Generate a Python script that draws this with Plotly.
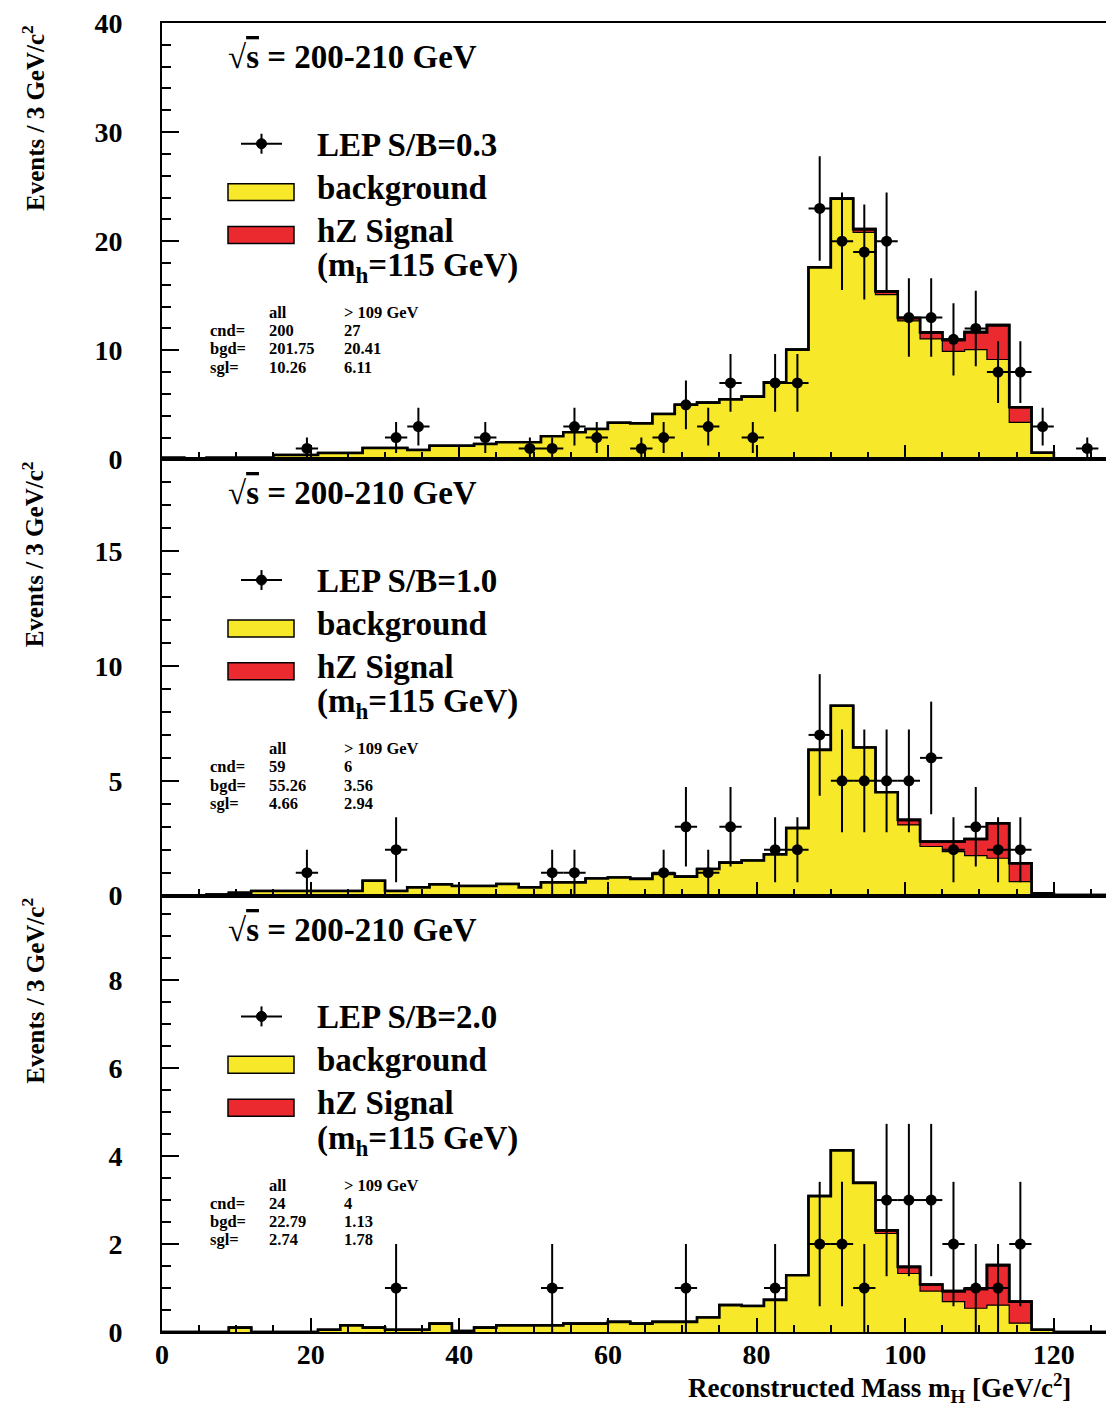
import numpy as np
import plotly.graph_objects as go

# ---------------- data ----------------
bin_edges = list(range(0, 130, 3))  # 0..129, 43 bins of 3 GeV

# panel 1 : LEP S/B=0.3
bkg_1 = [0.15, 0, 0.15, 0.15, 0.15, 0.4, 0.4, 0.58, 0.58, 1.04, 1.04, 0.86, 1.25, 1.25,
         1.41, 1.56, 1.56, 2.11, 2.48, 2.78, 3.35, 3.3, 4.16, 5.0, 5.2, 5.5, 5.75, 7.06,
         10.06, 17.6, 23.9, 20.8, 15.1, 12.7, 11.04, 9.9, 10.06, 9.15, 3.39, 0.6, 0.1, 0.1, 0.1]
sig_1 = [0]*31 + [0.3, 0.3, 0.26, 0.6, 1.05, 1.6, 3.15, 1.38, 0, 0, 0, 0]
obs_x_1 = [19.5, 31.5, 34.5, 43.5, 49.5, 52.5, 55.5, 58.5, 64.5, 67.5, 70.5, 73.5, 76.5, 79.5,
           82.5, 85.5, 88.5, 91.5, 94.5, 97.5, 100.5, 103.5, 106.5, 109.5, 112.5, 115.5, 118.5, 124.5]
obs_n_1 = [1, 2, 3, 2, 1, 1, 3, 2, 1, 2, 5, 3, 7, 2, 7, 7, 23, 20, 19, 20, 13, 13, 11, 12, 8, 8, 3, 1]

# panel 2 : LEP S/B=1.0
bkg_2 = [0, 0, 0.05, 0.13, 0.2, 0.2, 0.2, 0.2, 0.2, 0.65, 0.2, 0.36, 0.49, 0.42, 0.42, 0.51,
         0.36, 0.58, 0.58, 0.75, 0.79, 0.73, 0.95, 0.83, 1.16, 1.44, 1.53, 1.80, 2.94, 6.35,
         8.27, 6.45, 4.5, 3.08, 2.14, 1.92, 1.74, 1.63, 0.61, 0.1, 0.03, 0.03, 0.03]
sig_2 = [0]*33 + [0.22, 0.22, 0.44, 0.73, 1.52, 0.8, 0, 0, 0, 0]
obs_x_2 = [19.5, 31.5, 52.5, 55.5, 67.5, 70.5, 73.5, 76.5, 82.5, 85.5, 88.5, 91.5, 94.5, 97.5,
           100.5, 103.5, 106.5, 109.5, 112.5, 115.5]
obs_n_2 = [1, 2, 1, 1, 1, 3, 1, 3, 2, 2, 7, 5, 5, 5, 5, 6, 2, 3, 2, 2]

# panel 3 : LEP S/B=2.0
bkg_3 = [0, 0, 0, 0.1, 0, 0, 0, 0.05, 0.15, 0.1, 0.05, 0.05, 0.19, 0.02, 0.1, 0.15, 0.15,
         0.15, 0.19, 0.19, 0.23, 0.19, 0.23, 0.23, 0.33, 0.61, 0.59, 0.73, 1.29, 3.09, 4.13,
         3.39, 2.24, 1.33, 0.93, 0.69, 0.54, 0.61, 0.2, 0.05, 0, 0, 0]
sig_3 = [0]*32 + [0.07, 0.15, 0.15, 0.24, 0.44, 0.91, 0.49, 0, 0, 0, 0]
obs_x_3 = [31.5, 52.5, 70.5, 82.5, 88.5, 91.5, 94.5, 97.5, 100.5, 103.5, 106.5, 109.5, 112.5, 115.5]
obs_n_3 = [1, 1, 1, 1, 2, 2, 1, 3, 3, 3, 2, 1, 1, 2]

sb_labels = ["LEP S/B=0.3", "LEP S/B=1.0", "LEP S/B=2.0"]
stats_all = [["200", "201.75", "10.26"], ["59", "55.26", "4.66"], ["24", "22.79", "2.74"]]
stats_cut = [["27", "20.41", "6.11"], ["6", "3.56", "2.94"], ["4", "1.13", "1.78"]]
stat_names = ["cnd=", "bgd=", "sgl="]
y_ranges = [[0, 40], [0, 19.0], [0, 9.92]]
y_dticks = [10, 5, 2]
y_minor = [2, 1, 0.5]

panels = [(bkg_1, sig_1, obs_x_1, obs_n_1), (bkg_2, sig_2, obs_x_2, obs_n_2),
          (bkg_3, sig_3, obs_x_3, obs_n_3)]

# ---------------- layout geometry ----------------
# page body adds an 8px margin, so the figure is built 8px smaller/shifted
PAGE_OFF = 8
W, H = 1114 - PAGE_OFF, 1406 - PAGE_OFF
# plot area in reference (window) pixels
X0, X1, Y0, Y1 = 162, 1114, 20, 1332
ML, MR, MT, MB = X0 - PAGE_OFF, 0, Y0 - PAGE_OFF, H - (Y1 - PAGE_OFF)
PW = X1 - X0
PH = Y1 - Y0
PANEL_H = PH / 3.0

YELLOW = "#f8e82a"
RED = "#ea2a2f"
FONT = "Liberation Serif"


def px(xp):
    return (xp - X0) / PW


def py(yp):
    return (Y1 - yp) / PH


def ann(text, xp, yp, size, bold=True, xanchor="left", yanchor="middle", angle=0):
    return dict(text=text, x=px(xp), y=py(yp), xref="paper", yref="paper",
                showarrow=False, xanchor=xanchor, yanchor=yanchor, textangle=angle,
                font=dict(family=FONT, size=size, color="black",
                          weight="bold" if bold else "normal"))


fig = go.Figure()
annotations = []
shapes = []

for i, (bkg, sig, ox, on) in enumerate(panels):
    xa = "x" if i == 0 else f"x{i+1}"
    ya = "y" if i == 0 else f"y{i+1}"
    tot = [b + s for b, s in zip(bkg, sig)]
    xs = bin_edges
    # total (bkg + signal), red
    fig.add_trace(go.Scatter(x=xs, y=tot + [tot[-1]], mode="lines", line_shape="hv",
                             fill="tozeroy", fillcolor=RED,
                             line=dict(color="black", width=2.6),
                             xaxis=xa, yaxis=ya, showlegend=False, hoverinfo="skip"))
    # background, yellow
    fig.add_trace(go.Scatter(x=xs, y=bkg + [bkg[-1]], mode="lines", line_shape="hv",
                             fill="tozeroy", fillcolor=YELLOW,
                             line=dict(color="black", width=1.2),
                             xaxis=xa, yaxis=ya, showlegend=False, hoverinfo="skip"))
    # redraw total outline on top
    fig.add_trace(go.Scatter(x=xs, y=tot + [tot[-1]], mode="lines", line_shape="hv",
                             line=dict(color="black", width=2.6),
                             xaxis=xa, yaxis=ya, showlegend=False, hoverinfo="skip"))
    # data points
    fig.add_trace(go.Scatter(x=ox, y=on, mode="markers",
                             marker=dict(color="black", size=11),
                             error_y=dict(type="data", array=list(np.sqrt(on)), color="black",
                                          thickness=2, width=0),
                             error_x=dict(type="constant", value=1.5, color="black",
                                          thickness=2, width=0),
                             xaxis=xa, yaxis=ya, showlegend=False))

    off = i * PANEL_H
    # sqrt(s) label
    annotations.append(ann("√<span style=\"text-decoration:overline\">s</span> = 200-210 GeV",
                           226, 54 + off, 33))
    # legend
    annotations.append(ann(sb_labels[i], 315, 142 + off, 33))
    annotations.append(ann("background", 315, 185 + off, 33))
    annotations.append(ann("hZ Signal", 315, 228 + off, 33))
    annotations.append(ann("(m<sub>h</sub>=115 GeV)", 315, 265 + off, 33))
    # legend marker
    shapes.append(dict(type="line", xref="paper", yref="paper", x0=px(241), x1=px(282),
                       y0=py(141 + off), y1=py(141 + off), line=dict(color="black", width=2)))
    shapes.append(dict(type="line", xref="paper", yref="paper", x0=px(261.5), x1=px(261.5),
                       y0=py(131 + off), y1=py(151 + off), line=dict(color="black", width=2)))
    shapes.append(dict(type="circle", xref="paper", yref="paper", x0=px(256.5), x1=px(266.5),
                       y0=py(136 + off), y1=py(146 + off), fillcolor="black",
                       line=dict(color="black", width=1)))
    shapes.append(dict(type="rect", xref="paper", yref="paper", x0=px(228), x1=px(294),
                       y0=py(181 + off), y1=py(198 + off), fillcolor=YELLOW,
                       line=dict(color="black", width=1.5)))
    shapes.append(dict(type="rect", xref="paper", yref="paper", x0=px(228), x1=px(294),
                       y0=py(224 + off), y1=py(241 + off), fillcolor=RED,
                       line=dict(color="black", width=1.5)))
    # stats block
    annotations.append(ann("all", 267, 310 + off, 16.5))
    annotations.append(ann("&gt; 109 GeV", 342, 310 + off, 16.5))
    for r in range(3):
        yy = 328.3 + 18.3 * r + off
        annotations.append(ann(stat_names[r], 208, yy, 16.5))
        annotations.append(ann(stats_all[i][r], 267, yy, 16.5))
        annotations.append(ann(stats_cut[i][r], 342, yy, 16.5))
    # y title
    annotations.append(ann("Events / 3 GeV/c<sup>2</sup>", 33, Y0 + off, 25, bold=True,
                           xanchor="center", yanchor="top", angle=-90))

# x title
annotations.append(ann("Reconstructed Mass m<sub>H</sub> [GeV/c<sup>2</sup>]", 686, 1388, 27,
                       xanchor="left"))

tickfont = dict(family=FONT, size=28, color="black", weight="bold")
layout = dict(width=W, height=H, margin=dict(l=ML, r=MR, t=MT, b=MB),
              paper_bgcolor="white", plot_bgcolor="white", showlegend=False,
              annotations=annotations, shapes=shapes)

for i in range(3):
    xk = "xaxis" if i == 0 else f"xaxis{i+1}"
    yk = "yaxis" if i == 0 else f"yaxis{i+1}"
    ya = "y" if i == 0 else f"y{i+1}"
    xa = "x" if i == 0 else f"x{i+1}"
    lo = (2 - i) / 3.0
    hi = (3 - i) / 3.0
    layout[xk] = dict(domain=[0, 1], anchor=ya, range=[0, 128.1], showgrid=False,
                      zeroline=False, showline=True, linecolor="black", linewidth=2,
                      mirror=True, ticks="inside", ticklen=14, tickwidth=2, tickcolor="black",
                      dtick=20, tick0=0,
                      minor=dict(dtick=5, tick0=0, ticks="inside", ticklen=7, tickwidth=2,
                                 tickcolor="black", showgrid=False),
                      showticklabels=(i == 2), tickfont=tickfont, ticklabelstandoff=-4,
                      ticklabeloverflow="allow")
    if i > 0:
        layout[xk]["matches"] = "x"
    layout[yk] = dict(domain=[lo, hi], anchor=xa, range=y_ranges[i], showgrid=False,
                      zeroline=False, showline=True, linecolor="black", linewidth=2,
                      ticks="inside", ticklen=17, tickwidth=2, tickcolor="black",
                      dtick=y_dticks[i], tick0=0,
                      minor=dict(dtick=y_minor[i], tick0=0, ticks="inside", ticklen=9,
                                 tickwidth=2, tickcolor="black", showgrid=False),
                      tickfont=tickfont, ticklabelstandoff=32, ticklabeloverflow="allow")

fig.update_layout(**layout)
fig.write_html("out.html")
